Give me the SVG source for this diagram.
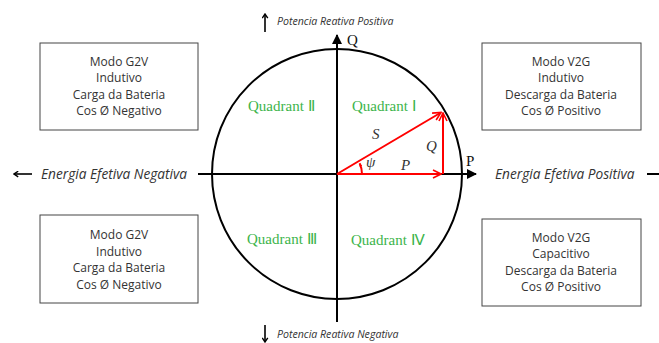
<svg xmlns="http://www.w3.org/2000/svg" width="659" height="343" viewBox="0 0 659 343">
<style>
.box{fill:#fff;stroke:#444;stroke-width:1}
.bt{font-family:"Open Sans","Noto Sans",sans-serif;font-size:12px;fill:#333;text-anchor:middle}
.ax{font-family:"Open Sans","Noto Sans",sans-serif;font-style:italic;fill:#333}
.quad{font-family:"Liberation Serif","Times New Roman",serif;font-size:15px;fill:#3cb44b}
.var{font-family:"Liberation Serif","Times New Roman",serif;font-style:italic;font-size:15px;fill:#333}
.lbl{font-family:"Liberation Serif","Times New Roman",serif;font-size:15px;fill:#111}
.axis{stroke:#000;stroke-width:2;fill:none}
.small{stroke:#000;stroke-width:1.6;fill:none}
.red{stroke:#ff0000;stroke-width:2;fill:none}
</style>
<defs>
<marker id="ah" viewBox="0 0 10 10" refX="9" refY="5" markerWidth="5" markerHeight="5" orient="auto" markerUnits="strokeWidth">
<path d="M0,0 L10,5 L0,10 z" fill="#000"/>
</marker>
<marker id="oh" viewBox="0 0 10 10" refX="8" refY="5" markerWidth="7" markerHeight="7" orient="auto" markerUnits="userSpaceOnUse">
<path d="M2,1 L8,5 L2,9" fill="none" stroke="#000" stroke-width="2"/>
</marker>
<marker id="rh" viewBox="0 0 10 10" refX="9" refY="5" markerWidth="5" markerHeight="5" orient="auto" markerUnits="strokeWidth">
<path d="M1,1 L9,5 L1,9" fill="none" stroke="#ff0000" stroke-width="1.6"/>
</marker>
<marker id="sa" viewBox="0 0 10 10" refX="9" refY="5" markerWidth="3.5" markerHeight="3.5" orient="auto" markerUnits="userSpaceOnUse">
<path d="M0,1 L9,5 L0,9 z" fill="#ff0000"/>
</marker>
</defs>

<g id="circle">
<circle cx="337" cy="174" r="125" fill="none" stroke="#000" stroke-width="2"/>
</g>

<g id="connectors">
<line class="axis" x1="198" y1="174" x2="476" y2="174" marker-end="url(#ah)"/>
<line class="axis" x1="647" y1="174" x2="659" y2="174"/>
<line class="axis" x1="337" y1="322" x2="337" y2="35" marker-end="url(#ah)"/>
<line class="small" x1="32" y1="174" x2="14" y2="174" marker-end="url(#oh)"/>
<line class="small" x1="265" y1="32" x2="265" y2="14" marker-end="url(#oh)"/>
<line class="small" x1="265" y1="325" x2="265" y2="342" marker-end="url(#oh)"/>
<line class="red" x1="337" y1="174" x2="441" y2="112.5" marker-end="url(#rh)"/>
<line class="red" x1="443" y1="174" x2="443" y2="113" marker-end="url(#rh)"/>
<line class="red" x1="337" y1="174" x2="441" y2="174" marker-end="url(#rh)"/>
<path class="red" stroke-width="1.5" d="M362,174 A25,25 0 0 0 359.6,163.3" marker-end="url(#sa)"/>
</g>

<g id="axis-labels">
<text class="lbl" x="347" y="45">Q</text>
<text class="lbl" x="466" y="166">P</text>
<text class="var" x="372" y="139">S</text>
<text class="var" x="426" y="151">Q</text>
<text class="var" x="401" y="170">P</text>
<text class="var" x="366" y="167" font-size="13">ψ</text>
<text class="ax" x="277" y="25" font-size="10.6">Potencia Reativa Positiva</text>
<text class="ax" x="277" y="338" font-size="10.6">Potencia Reativa Negativa</text>
<text class="ax" x="41" y="179" font-size="13.7">Energia Efetiva Negativa</text>
<text class="ax" x="495" y="179" font-size="13.7">Energia Efetiva Positiva</text>
</g>

<g id="quadrants">
<text class="quad" x="248" y="111">Quadrant Ⅱ</text>
<text class="quad" x="352" y="111">Quadrant Ⅰ</text>
<text class="quad" x="247" y="244">Quadrant Ⅲ</text>
<text class="quad" x="351" y="245">Quadrant Ⅳ</text>
</g>

<g id="box-g2v-top">
<rect class="box" x="40" y="43" width="158" height="87"/>
<text class="bt" x="119" y="66">Modo G2V</text>
<text class="bt" x="119" y="82">Indutivo</text>
<text class="bt" x="119" y="99">Carga da Bateria</text>
<text class="bt" x="119" y="115">Cos Ø Negativo</text>
</g>

<g id="box-v2g-top">
<rect class="box" x="482" y="43" width="159" height="87"/>
<text class="bt" x="561" y="66">Modo V2G</text>
<text class="bt" x="561" y="82">Indutivo</text>
<text class="bt" x="561" y="99">Descarga da Bateria</text>
<text class="bt" x="561" y="115">Cos Ø Positivo</text>
</g>

<g id="box-g2v-bottom">
<rect class="box" x="40" y="215" width="158" height="88"/>
<text class="bt" x="119" y="239">Modo G2V</text>
<text class="bt" x="119" y="256">Indutivo</text>
<text class="bt" x="119" y="272">Carga da Bateria</text>
<text class="bt" x="119" y="289">Cos Ø Negativo</text>
</g>

<g id="box-v2g-bottom">
<rect class="box" x="482" y="219" width="159" height="87"/>
<text class="bt" x="561" y="242">Modo V2G</text>
<text class="bt" x="561" y="258">Capacitivo</text>
<text class="bt" x="561" y="275">Descarga da Bateria</text>
<text class="bt" x="561" y="291">Cos Ø Positivo</text>
</g>
</svg>
